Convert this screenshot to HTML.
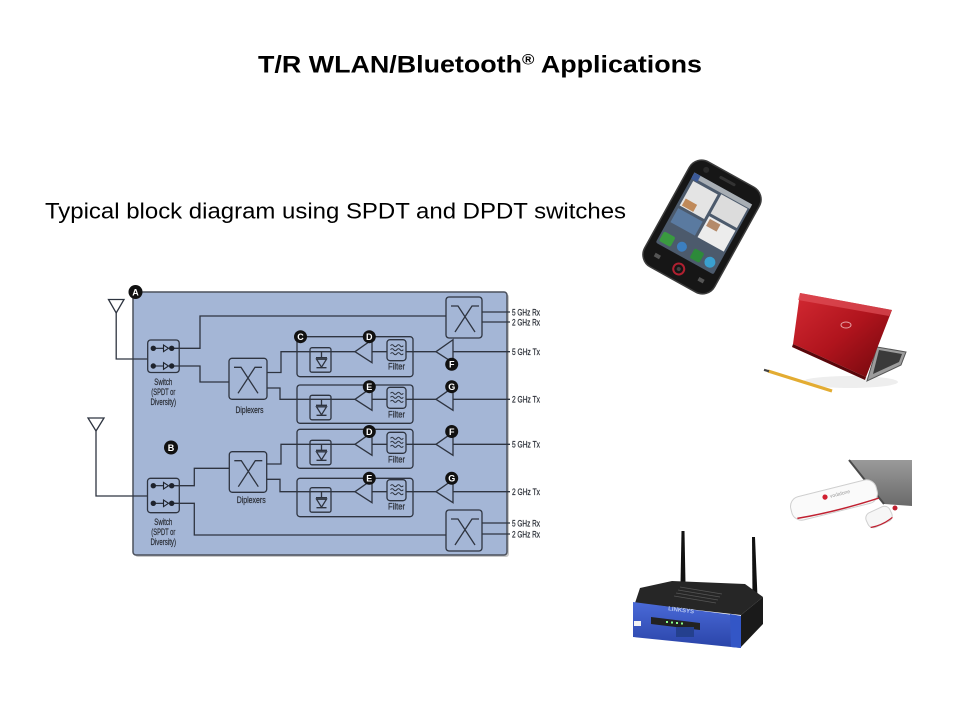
<!DOCTYPE html>
<html>
<head>
<meta charset="utf-8">
<style>
html,body{margin:0;padding:0;background:#fff;}
svg{display:block;}
</style>
</head>
<body>
<svg width="960" height="720" viewBox="0 0 960 720" xmlns="http://www.w3.org/2000/svg">
<defs>
<linearGradient id="lid" x1="0" y1="0" x2="1" y2="1">
<stop offset="0" stop-color="#d42a33"/>
<stop offset="0.5" stop-color="#b0141d"/>
<stop offset="1" stop-color="#6e070c"/>
</linearGradient>
<linearGradient id="blue" x1="0" y1="0" x2="0" y2="1">
<stop offset="0" stop-color="#4a6ad8"/>
<stop offset="1" stop-color="#2a44a8"/>
</linearGradient>
<linearGradient id="grey" x1="0" y1="0" x2="0" y2="1">
<stop offset="0" stop-color="#9a9a9a"/>
<stop offset="1" stop-color="#6a6a6a"/>
</linearGradient>
</defs>
<rect width="960" height="720" fill="#fff"/>

<!-- Title -->
<text x="258" y="72.5" font-family="Liberation Sans, Arial, sans-serif" font-size="24" font-weight="bold" fill="#000" textLength="444" lengthAdjust="spacingAndGlyphs">T/R WLAN/Bluetooth<tspan font-size="15" dy="-8">®</tspan><tspan dy="8"> Applications</tspan></text>

<!-- Subtitle -->
<text x="45" y="218.5" font-family="Liberation Sans, Arial, sans-serif" font-size="22.5" fill="#000" textLength="581" lengthAdjust="spacingAndGlyphs">Typical block diagram using SPDT and DPDT switches</text>

<!-- ===== Diagram ===== -->
<rect x="135" y="294" width="374" height="263" rx="3" fill="#c9c9c9"/>
<rect x="133" y="292" width="374" height="263" rx="3" fill="#a4b6d6" stroke="#4b505c" stroke-width="1.5"/>

<g fill="none" stroke="#2e3440" stroke-width="1.3">
<polygon points="108.5,299.5 124,299.5 116.2,313"/>
<path d="M116.2,313 V359 H148"/>
<polygon points="88,418 104,418 96,431"/>
<path d="M96,431 V496 H148"/>

<rect x="147.7" y="340" width="31.5" height="32.5" rx="3"/>
<rect x="147.5" y="478.3" width="31.8" height="34.4" rx="3"/>

<path d="M171.7,348.3 H200 V316 H446"/>
<path d="M171.7,366 H200 V382 H229"/>
<path d="M171.7,485.7 H194.3 V468.3 H229.3"/>
<path d="M171.7,503.3 H194.3 V535 H446"/>

<rect x="229" y="358.3" width="38" height="41" rx="3"/>
<rect x="229.3" y="451.7" width="37.4" height="40.6" rx="3"/>
<rect x="446" y="297" width="36" height="41" rx="3"/>
<rect x="446" y="510" width="36" height="41" rx="3"/>
<path d="M234,367.3 H241 L258,393.3 M262,367.3 H255 L238,393.3"/>
<path d="M234.3,460.7 H241.3 L258.3,486.7 M262.3,460.7 H255.3 L238.3,486.7"/>
<path d="M451,306 H458 L475,332 M479,306 H472 L455,332"/>
<path d="M451,519 H458 L475,545 M479,519 H472 L455,545"/>

<path d="M482,312 H510 M482,322 H510 M482,523 H510 M482,534 H510"/>

<path d="M267,372.5 H281 V351.7 H355"/>
<path d="M267,388 H280 V399.3 H355"/>
<path d="M266.7,464 H281 V444.3 H355"/>
<path d="M266.7,479.3 H280 V491.7 H355"/>

<rect x="297" y="336.7" width="116" height="40" rx="3"/>
<rect x="297" y="385" width="116" height="38.3" rx="3"/>
<rect x="297" y="429.3" width="116" height="39" rx="3"/>
<rect x="297" y="478.3" width="116" height="38.4" rx="3"/>
</g>

<g fill="#1e232c" stroke="#1e232c" stroke-width="1.2">
<circle cx="153.3" cy="348.3" r="2.1"/><circle cx="171.7" cy="348.3" r="2.1"/>
<circle cx="153.3" cy="366" r="2.1"/><circle cx="171.7" cy="366" r="2.1"/>
<circle cx="153.3" cy="485.7" r="2.1"/><circle cx="171.7" cy="485.7" r="2.1"/>
<circle cx="153.3" cy="503.3" r="2.1"/><circle cx="171.7" cy="503.3" r="2.1"/>
</g>
<g fill="none" stroke="#1e232c" stroke-width="1.1">
<path d="M153.3,348.3 H163.5 M153.3,366 H163.5 M153.3,485.7 H163.5 M153.3,503.3 H163.5"/>
<polygon points="163.5,345 163.5,351.6 168.5,348.3"/>
<polygon points="163.5,362.7 163.5,369.3 168.5,366"/>
<polygon points="163.5,482.4 163.5,489 168.5,485.7"/>
<polygon points="163.5,500 163.5,506.6 168.5,503.3"/>
</g>

<g transform="translate(0,351.7)" fill="none" stroke="#2e3440" stroke-width="1.3">
<rect x="310" y="-4" width="21" height="24.5" rx="2"/>
<path d="M321.5,0 V6 M316,6 H327 M316.5,16 H326.5"/>
<polygon points="316.5,7.5 326.5,7.5 321.5,15.5"/>
<polygon points="355,0 372,-12 372,11"/>
<path d="M372,0 H387 M406,0 H436 M453,0 H510"/>
<rect x="387" y="-12" width="19" height="21" rx="3"/>
<path d="M390.5,-6 q1.6,-2.2 3.2,0 t3.2,0 t3.2,0 t3.2,0 M390.5,-2 q1.6,-2.2 3.2,0 t3.2,0 t3.2,0 t3.2,0 M390.5,2 q1.6,-2.2 3.2,0 t3.2,0 t3.2,0 t3.2,0" stroke-width="1"/>
<polygon points="436,0 453,-12 453,11"/>
</g>
<g transform="translate(0,399.3)" fill="none" stroke="#2e3440" stroke-width="1.3">
<rect x="310" y="-4" width="21" height="24.5" rx="2"/>
<path d="M321.5,0 V6 M316,6 H327 M316.5,16 H326.5"/>
<polygon points="316.5,7.5 326.5,7.5 321.5,15.5"/>
<polygon points="355,0 372,-12 372,11"/>
<path d="M372,0 H387 M406,0 H436 M453,0 H510"/>
<rect x="387" y="-12" width="19" height="21" rx="3"/>
<path d="M390.5,-6 q1.6,-2.2 3.2,0 t3.2,0 t3.2,0 t3.2,0 M390.5,-2 q1.6,-2.2 3.2,0 t3.2,0 t3.2,0 t3.2,0 M390.5,2 q1.6,-2.2 3.2,0 t3.2,0 t3.2,0 t3.2,0" stroke-width="1"/>
<polygon points="436,0 453,-12 453,11"/>
</g>
<g transform="translate(0,444.3)" fill="none" stroke="#2e3440" stroke-width="1.3">
<rect x="310" y="-4" width="21" height="24.5" rx="2"/>
<path d="M321.5,0 V6 M316,6 H327 M316.5,16 H326.5"/>
<polygon points="316.5,7.5 326.5,7.5 321.5,15.5"/>
<polygon points="355,0 372,-12 372,11"/>
<path d="M372,0 H387 M406,0 H436 M453,0 H510"/>
<rect x="387" y="-12" width="19" height="21" rx="3"/>
<path d="M390.5,-6 q1.6,-2.2 3.2,0 t3.2,0 t3.2,0 t3.2,0 M390.5,-2 q1.6,-2.2 3.2,0 t3.2,0 t3.2,0 t3.2,0 M390.5,2 q1.6,-2.2 3.2,0 t3.2,0 t3.2,0 t3.2,0" stroke-width="1"/>
<polygon points="436,0 453,-12 453,11"/>
</g>
<g transform="translate(0,491.7)" fill="none" stroke="#2e3440" stroke-width="1.3">
<rect x="310" y="-4" width="21" height="24.5" rx="2"/>
<path d="M321.5,0 V6 M316,6 H327 M316.5,16 H326.5"/>
<polygon points="316.5,7.5 326.5,7.5 321.5,15.5"/>
<polygon points="355,0 372,-12 372,11"/>
<path d="M372,0 H387 M406,0 H436 M453,0 H510"/>
<rect x="387" y="-12" width="19" height="21" rx="3"/>
<path d="M390.5,-6 q1.6,-2.2 3.2,0 t3.2,0 t3.2,0 t3.2,0 M390.5,-2 q1.6,-2.2 3.2,0 t3.2,0 t3.2,0 t3.2,0 M390.5,2 q1.6,-2.2 3.2,0 t3.2,0 t3.2,0 t3.2,0" stroke-width="1"/>
<polygon points="436,0 453,-12 453,11"/>
</g>

<!-- diagram labels -->
<g font-family="Liberation Sans Narrow, Liberation Sans, Arial, sans-serif" font-size="9" fill="#2c3038" stroke="#2c3038" stroke-width="0.25">
<text x="154.3" y="385" textLength="18" lengthAdjust="spacingAndGlyphs">Switch</text>
<text x="151.3" y="395" textLength="24" lengthAdjust="spacingAndGlyphs">(SPDT or</text>
<text x="150.5" y="405" textLength="25.5" lengthAdjust="spacingAndGlyphs">Diversity)</text>
<text x="154.3" y="525" textLength="18" lengthAdjust="spacingAndGlyphs">Switch</text>
<text x="151.3" y="535" textLength="24" lengthAdjust="spacingAndGlyphs">(SPDT or</text>
<text x="150.5" y="545" textLength="25.5" lengthAdjust="spacingAndGlyphs">Diversity)</text>
<text x="235.5" y="413" textLength="28" lengthAdjust="spacingAndGlyphs">Diplexers</text>
<text x="236.7" y="503" textLength="29" lengthAdjust="spacingAndGlyphs">Diplexers</text>
<text x="388" y="369.7" textLength="17" lengthAdjust="spacingAndGlyphs">Filter</text>
<text x="388" y="417.3" textLength="17" lengthAdjust="spacingAndGlyphs">Filter</text>
<text x="388" y="462.3" textLength="17" lengthAdjust="spacingAndGlyphs">Filter</text>
<text x="388" y="509.7" textLength="17" lengthAdjust="spacingAndGlyphs">Filter</text>
<text x="512" y="315.5" textLength="28" lengthAdjust="spacingAndGlyphs">5 GHz Rx</text>
<text x="512" y="325.5" textLength="28" lengthAdjust="spacingAndGlyphs">2 GHz Rx</text>
<text x="512" y="355" textLength="28" lengthAdjust="spacingAndGlyphs">5 GHz Tx</text>
<text x="512" y="402.5" textLength="28" lengthAdjust="spacingAndGlyphs">2 GHz Tx</text>
<text x="512" y="447.5" textLength="28" lengthAdjust="spacingAndGlyphs">5 GHz Tx</text>
<text x="512" y="495" textLength="28" lengthAdjust="spacingAndGlyphs">2 GHz Tx</text>
<text x="512" y="526.5" textLength="28" lengthAdjust="spacingAndGlyphs">5 GHz Rx</text>
<text x="512" y="537.5" textLength="28" lengthAdjust="spacingAndGlyphs">2 GHz Rx</text>
</g>

<!-- badges -->
<g>
<circle cx="135.5" cy="292" r="7" fill="#111"/>
<circle cx="171" cy="447.5" r="7" fill="#111"/>
<circle cx="300.5" cy="336.7" r="6.5" fill="#111"/>
<circle cx="369.3" cy="336.7" r="6.5" fill="#111"/>
<circle cx="451.7" cy="364.3" r="6.5" fill="#111"/>
<circle cx="369.3" cy="386.7" r="6.5" fill="#111"/>
<circle cx="451.7" cy="386.7" r="6.5" fill="#111"/>
<circle cx="369.3" cy="431.5" r="6.5" fill="#111"/>
<circle cx="451.7" cy="431.5" r="6.5" fill="#111"/>
<circle cx="369.3" cy="478.3" r="6.5" fill="#111"/>
<circle cx="451.7" cy="478.3" r="6.5" fill="#111"/>
</g>
<g font-family="Liberation Sans, Arial, sans-serif" font-size="9" font-weight="bold" fill="#fff" text-anchor="middle">
<text x="135.5" y="295.3">A</text>
<text x="171" y="450.8">B</text>
<text x="300.5" y="340">C</text>
<text x="369.3" y="340">D</text>
<text x="451.7" y="367.6">F</text>
<text x="369.3" y="390">E</text>
<text x="451.7" y="390">G</text>
<text x="369.3" y="434.8">D</text>
<text x="451.7" y="434.8">F</text>
<text x="369.3" y="481.6">E</text>
<text x="451.7" y="481.6">G</text>
</g>

<!-- ===== Phone ===== -->
<g transform="translate(702,227) rotate(29)">
<rect x="-40" y="-60" width="80" height="120" rx="14" fill="#161616" stroke="#3c3c3c" stroke-width="1.5"/>
<rect x="-33" y="-44" width="66" height="80" rx="2" fill="#4c5a6c"/>
<rect x="-33" y="-44" width="66" height="5" fill="#a8aeb4"/>
<rect x="-33" y="-44" width="7" height="7" fill="#3b5998"/>
<rect x="-30" y="-36" width="28" height="28" fill="#e4e4e4"/>
<rect x="-28" y="-17" width="13" height="8" fill="#c08a5a"/>
<rect x="1" y="-38" width="30" height="22" fill="#dcdcdc"/>
<rect x="1" y="-13" width="30" height="24" fill="#ececec"/>
<rect x="3" y="-11" width="12" height="8" fill="#b48a6a"/>
<rect x="-30" y="-5" width="28" height="16" fill="#5a7aa0"/>
<rect x="-31" y="22" width="13" height="11" rx="2" fill="#3a9a40"/>
<circle cx="-8" cy="27" r="5" fill="#3c7fc0"/>
<rect x="4" y="22" width="11" height="11" rx="2" fill="#2d8a3a"/>
<circle cx="24" cy="27" r="5.5" fill="#3aa0d0"/>
<rect x="-9" y="-54" width="18" height="3" rx="1.5" fill="#333"/>
<circle cx="-24" cy="-52" r="3" fill="#2a2a2a"/>
<circle cx="0" cy="48" r="5.5" fill="none" stroke="#b02030" stroke-width="2"/>
<circle cx="0" cy="48" r="2" fill="#444"/>
<rect x="-28" y="45" width="6" height="4" fill="#555"/>
<rect x="22" y="45" width="6" height="4" fill="#555"/>
</g>

<!-- ===== Laptop ===== -->
<ellipse cx="850" cy="382" rx="48" ry="6" fill="#eee"/>
<polygon points="877,347 906,352 901,365 867,381" fill="#9c9c9c" stroke="#555" stroke-width="1"/>
<polygon points="879,350 902,354 899,362 873,374" fill="#3a3a3a"/>
<polygon points="800,293 892,310 866,377 793,344" fill="url(#lid)"/>
<polygon points="800,293 892,310 889,316 798,300" fill="#e05058" opacity="0.7"/>
<polygon points="793,344 866,377 865,380 792,347" fill="#5a060a"/>
<ellipse cx="846" cy="325" rx="5" ry="3" fill="none" stroke="#e6a0a4" stroke-width="1"/>
<line x1="768" y1="371" x2="832" y2="391" stroke="#e3ac32" stroke-width="3.2"/>
<line x1="764" y1="369.8" x2="769" y2="371.3" stroke="#444" stroke-width="2.2"/>

<!-- ===== USB dongle ===== -->
<polygon points="849,460 912,460 912,506 884,504" fill="url(#grey)"/>
<line x1="849" y1="460" x2="884" y2="504" stroke="#4a4a4a" stroke-width="2"/>
<g transform="translate(834,500) rotate(-14)">
<rect x="-44" y="-12" width="88" height="24" rx="10" fill="#fafafa" stroke="#cfcfcf" stroke-width="1"/>
<path d="M-40,9 Q0,12 44,9" fill="none" stroke="#c02030" stroke-width="1.5"/>
<circle cx="-8" cy="-5" r="2.6" fill="#d02030"/>
<text x="-3" y="-3" font-family="Liberation Sans, sans-serif" font-size="5" fill="#999">vodafone</text>
</g>
<g transform="translate(879,517) rotate(-25)">
<rect x="-13" y="-8" width="26" height="16" rx="6" fill="#f6f6f6" stroke="#cfcfcf" stroke-width="1"/>
<path d="M-12,6 Q0,9 12,6" fill="none" stroke="#c02030" stroke-width="1.2"/>
</g>
<circle cx="895" cy="508" r="2.5" fill="#c02030"/>

<!-- ===== Router ===== -->
<polygon points="681.5,531 684.5,531 685.5,584 680.5,584" fill="#111"/>
<polygon points="752,537 755,537 757.5,597 752.5,597" fill="#111"/>
<polygon points="640,588 672,581 745,584 763,597 741,615 635,603" fill="#262626"/>
<g stroke="#555" stroke-width="0.8">
<line x1="680" y1="587" x2="722" y2="594"/>
<line x1="678" y1="590" x2="720" y2="597"/>
<line x1="676" y1="593" x2="718" y2="600"/>
<line x1="674" y1="596" x2="716" y2="603"/>
</g>
<polygon points="741,615 763,597 763,624 741,647" fill="#1a1a1a"/>
<polygon points="633,602 741,616 741,648 633,637" fill="url(#blue)"/>
<polygon points="730,614 741,616 741,648 731,647" fill="#3356c6"/>
<polygon points="651,617 700,623 700,630 651,624" fill="#222"/>
<g fill="#8f8">
<rect x="666" y="621" width="2" height="2"/><rect x="671" y="621.5" width="2" height="2"/><rect x="676" y="622" width="2" height="2"/><rect x="681" y="622.5" width="2" height="2"/>
</g>
<rect x="676" y="627" width="18" height="10" fill="#24408e"/>
<rect x="634" y="621" width="7" height="5" fill="#f4f4f4"/>
<text x="668" y="613" font-family="Liberation Sans, sans-serif" font-size="6" font-weight="bold" fill="#b8c8f0" transform="rotate(7 690 612)">LINKSYS</text>
</svg>
</body>
</html>
